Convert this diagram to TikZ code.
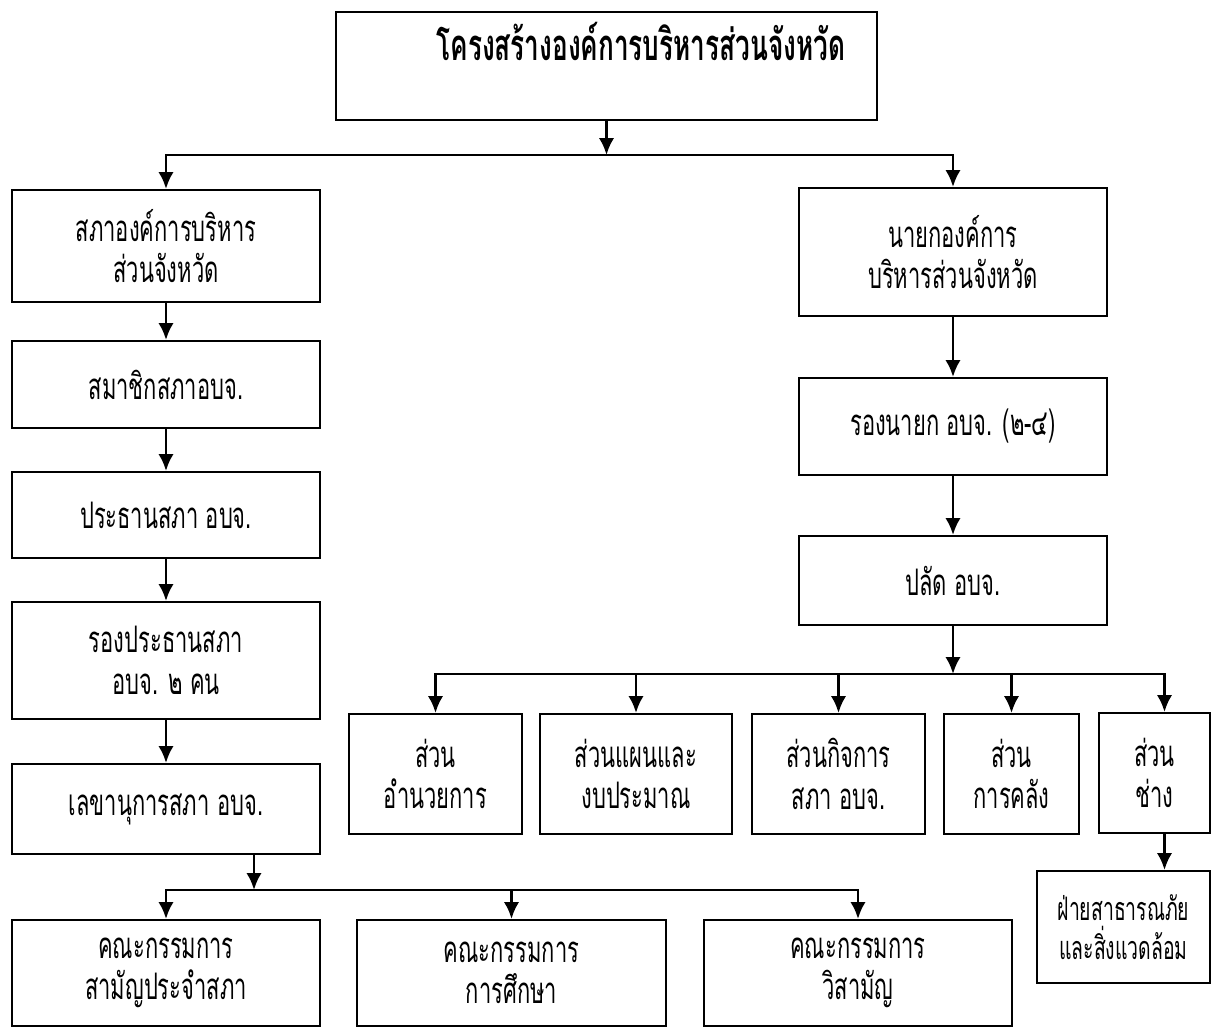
\documentclass[tikz,border=0pt]{standalone}
\usepackage{fontspec}
\newfontfamily\thaifont[Script=Thai, FakeStretch=0.6]{Loma}
\usetikzlibrary{positioning}
\usetikzlibrary{arrows.meta}
\tikzset{>={Latex[width=3.8mm,length=4.2mm]}}

\begin{document}
\begin{tikzpicture}[x=0.025cm, y=-0.025cm, box/.style={draw=black, line width=1.4pt, align=center, inner sep=0pt, font=\thaifont\fontsize{26}{29.5}\selectfont}, colbox/.style={box, minimum width=7.7cm}, divbox/.style={box, minimum height=3cm}, link/.style={->, line width=2pt}]

    \useasboundingbox (0,0) rectangle (1212,1028);

    %Nodes
    \node[box, font=\thaifont\bfseries\fontsize{31}{34}\selectfont, text width=11.925cm, align=right, inner xsep=0.8cm, inner ysep=0pt, text height=1.2cm, text depth=1.5cm](title) at (606.5,66){โครงสร้างองค์การบริหารส่วนจังหวัด};
    \node[colbox, minimum height=2.8cm](council) at (166,246){สภาองค์การบริหาร\\ส่วนจังหวัด};
    \node[colbox, minimum height=2.175cm](members)[below=0.925cm of council]{สมาชิกสภาอบจ.};
    \node[colbox, minimum height=2.15cm](chair)[below=1.05cm of members]{ประธานสภา อบจ.};
    \node[colbox, minimum height=2.925cm](vicechair)[below=1.05cm of chair]{รองประธานสภา\\อบจ. ๒ คน};
    \node[colbox, minimum height=2.25cm](secretary)[below=1.075cm of vicechair]{เลขานุการสภา อบจ.};
    \node[colbox, minimum height=3.2cm](chief) at (953,252){นายกองค์การ\\บริหารส่วนจังหวัด};
    \node[colbox, minimum height=2.425cm](deputy)[below=1.5cm of chief]{รองนายก อบจ. (๒-๔)};
    \node[colbox, minimum height=2.225cm](palad)[below=1.475cm of deputy]{ปลัด อบจ.};
    \node[divbox, minimum width=4.325cm](admin) at (435.5,774){ส่วน\\อำนวยการ};
    \node[divbox, minimum width=4.8cm](plan) at (636,774){ส่วนแผนและ\\งบประมาณ};
    \node[divbox, minimum width=4.325cm](affairs) at (838.5,774){ส่วนกิจการ\\สภา อบจ.};
    \node[divbox, minimum width=3.375cm](finance) at (1011.5,774){ส่วน\\การคลัง};
    \node[divbox, minimum width=2.775cm](works) at (1154.5,773){ส่วน\\ช่าง};
    \node[box, minimum width=4.325cm, minimum height=2.8cm, font=\thaifont\fontsize{23}{28}\selectfont](disaster) at (1123.5,927){ฝ่ายสาธารณภัย\\และสิ่งแวดล้อม};
    \node[colbox, minimum height=2.65cm](standing) at (166,973){คณะกรรมการ\\สามัญประจำสภา};
    \node[colbox, minimum height=2.65cm](education) at (511.5,973){คณะกรรมการ\\การศึกษา};
    \node[colbox, minimum height=2.65cm](adhoc) at (858,973){คณะกรรมการ\\วิสามัญ};
    \coordinate (topjoin) at (606.5,155);
    \coordinate (divjoin) at (953,674);
    \coordinate (comjoin) at (254,890);

    %Lines
    \draw[link] (title.south) -- (topjoin);
    \draw[link] (topjoin) -| (council.north);
    \draw[link] (topjoin) -| (chief.north);
    \draw[link] (council) -- (members);
    \draw[link] (members) -- (chair);
    \draw[link] (chair) -- (vicechair);
    \draw[link] (vicechair) -- (secretary);
    \draw[link] (chief) -- (deputy);
    \draw[link] (deputy) -- (palad);
    \draw[link] (palad) -- (divjoin);
    \draw[link] (divjoin) -| (admin.north);
    \draw[link] (divjoin) -| (plan.north);
    \draw[link] (divjoin) -| (affairs.north);
    \draw[link] (divjoin) -| (finance.north);
    \draw[link] (divjoin) -| ([xshift=0.25cm]works.north);
    \draw[link] ([xshift=0.25cm]works.south) -- ([xshift=0.25cm]works.south |- disaster.north);
    \draw[link] (secretary.south -| comjoin) -- (comjoin);
    \draw[link] (comjoin) -| (standing.north);
    \draw[link] (comjoin) -| (education.north);
    \draw[link] (comjoin) -| (adhoc.north);

\end{tikzpicture}
\end{document}
